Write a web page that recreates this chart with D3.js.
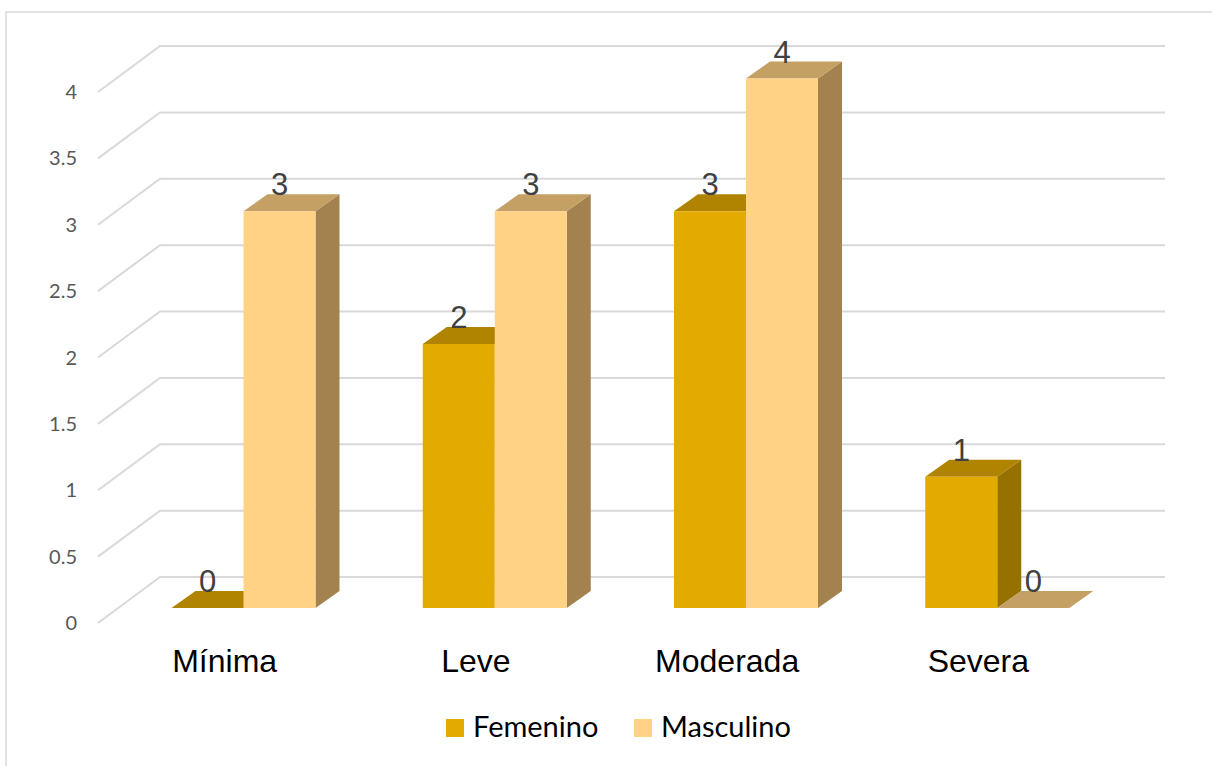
<!DOCTYPE html>
<html>
<head>
<meta charset="utf-8">
<script src="https://cdnjs.cloudflare.com/ajax/libs/d3/7.8.5/d3.min.js"></script>
<style>
  body { margin: 0; background: #fff; }
  svg { display: block; }
</style>
</head>
<body>
<div id="chart"></div>
<script>
var width = 1212;
var height = 766;

// data
var categories = ["Mínima", "Leve", "Moderada", "Severa"];
var seriesNames = ["Femenino", "Masculino"];
var femenino = [0, 2, 3, 1];
var masculino = [3, 3, 4, 0];
var yTicks = [0, 0.5, 1, 1.5, 2, 2.5, 3, 3.5, 4];

var colors = {
  Femenino: { front: "#e3aa00", top: "#b08400", side: "#977100" },
  Masculino: { front: "#ffd285", top: "#c4a064", side: "#a4824f" }
};

// 3d depth of wall, and where bars sit inside it
var depth = { dx: 62, dy: -46 };
var barOff = { dx: 20, dy: -15 };
var barDepth = { dx: 24, dy: -17 };

var svg = d3.select("#chart")
  .append("svg")
  .attr("width", width)
  .attr("height", height);

// outer border
svg.append("rect")
  .attr("x", 6)
  .attr("y", 12)
  .attr("width", 1230)
  .attr("height", 780)
  .style("fill", "none")
  .style("stroke", "#d9d9d9")
  .style("stroke-width", 1.5);

var y = d3.scaleLinear().domain([0, 4]).range([623, 92]);
var x = d3.scaleBand().domain(categories).range([98, 1103]);
var xs = d3.scaleBand().domain(seriesNames).range([53.5, 197.5]);

/* gridlines: floor diagonal + back wall */
var grid = svg.append("g").attr("class", "grid");
grid.selectAll("polyline")
  .data(yTicks)
  .enter()
  .append("polyline")
  .attr("points", d => {
    var yf = y(d);
    return [[98, yf], [98 + depth.dx, yf + depth.dy], [1103 + depth.dx, yf + depth.dy]].join(" ");
  })
  .style("fill", "none")
  .style("stroke", "#d9d9d9")
  .style("stroke-width", 2);

/* y tick labels */
svg.append("g")
  .selectAll("text")
  .data(yTicks)
  .enter()
  .append("text")
  .attr("x", 77)
  .attr("y", d => y(d))
  .attr("dy", "0.35em")
  .style("text-anchor", "end")
  .style("font-family", "Lato, 'Liberation Sans', sans-serif")
  .style("font-size", "20px")
  .style("fill", "#595959")
  .text(d => d);

/* bars */
var bars = [];
categories.forEach(function(c, i) {
  bars.push({ cat: c, s: "Femenino", v: femenino[i] });
  bars.push({ cat: c, s: "Masculino", v: masculino[i] });
});

var barG = svg.append("g").attr("class", "bars");
bars.forEach(function(b) {
  var x0 = x(b.cat) + barOff.dx + xs(b.s);
  var x1 = x0 + xs.bandwidth();
  var yb = y(0) + barOff.dy;
  var yt = y(b.v) + barOff.dy + (b.v > 0 ? 1.5 : 0);
  var ddx = barDepth.dx, ddy = barDepth.dy;
  var col = colors[b.s];
  var g = barG.append("g");

  if (b.v > 0) {
    g.append("polygon")
      .attr("points", [[x1, yt], [x1 + ddx, yt + ddy], [x1 + ddx, yb + ddy], [x1, yb]].join(" "))
      .style("fill", col.side);
  }
  g.append("polygon")
    .attr("points", [[x0, yt], [x0 + ddx, yt + ddy], [x1 + ddx, yt + ddy], [x1, yt]].join(" "))
    .style("fill", col.top);
  if (b.v > 0) {
    g.append("rect")
      .attr("x", x0)
      .attr("y", yt)
      .attr("width", x1 - x0)
      .attr("height", yb - yt)
      .style("fill", col.front);
  }
  b.labelX = (x0 + x1) / 2;
  b.labelY = yt + ddy + 1;
});

/* data labels */
svg.append("g")
  .selectAll("text")
  .data(bars)
  .enter()
  .append("text")
  .attr("x", d => d.labelX)
  .attr("y", d => d.labelY)
  .style("text-anchor", "middle")
  .style("font-family", "'Liberation Sans', Arial, sans-serif")
  .style("font-size", "31px")
  .style("fill", "#404040")
  .text(d => d.v);

/* category labels */
svg.append("g")
  .selectAll("text")
  .data(categories)
  .enter()
  .append("text")
  .attr("x", d => x(d) + x.bandwidth() / 2 + 1)
  .attr("y", 672)
  .style("text-anchor", "middle")
  .style("font-family", "'Liberation Sans', Arial, sans-serif")
  .style("font-size", "32px")
  .style("fill", "#000")
  .text(d => d);

/* legend */
var legendX = [446, 634];
var legend = svg.selectAll(".legend")
  .data(seriesNames)
  .enter()
  .append("g")
  .attr("class", "legend")
  .attr("transform", (d, i) => "translate(" + legendX[i] + ",719)");

legend.append("rect")
  .attr("width", 18)
  .attr("height", 18)
  .style("fill", d => colors[d].front);

legend.append("text")
  .attr("x", 27)
  .attr("y", 18)
  .style("font-family", "Lato, sans-serif")
  .style("font-size", "29px")
  .style("fill", "#000")
  .text(d => d);
</script>
</body>
</html>
